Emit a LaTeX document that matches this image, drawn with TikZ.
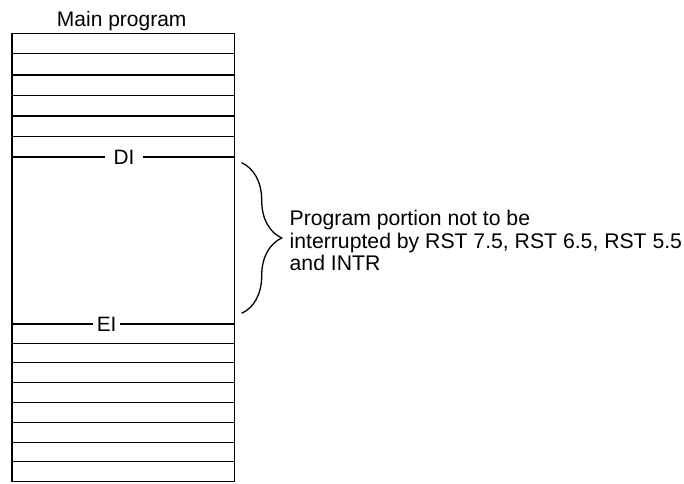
\documentclass[tikz,border=0pt]{standalone}
\usepackage{fontspec}
\setmainfont{Liberation Sans}
\usetikzlibrary{decorations.pathreplacing}
\begin{document}
\begin{tikzpicture}[x=1pt,y=-1pt,
  rowline/.style={line width=1.3pt},
  lbl/.style={fill=white,inner sep=0pt,font=\fontsize{20.8}{22.5}\selectfont},
  txt/.style={inner sep=0pt,align=left,font=\fontsize{21.2}{22.8}\selectfont}]
\useasboundingbox (0,0) rectangle (684,483);
% outer box
\draw[rowline] (12,33.3) rectangle (234.3,481.6);
% upper rows
\foreach \y in {53.3,75,95.7,116,136.7}{
  \draw[rowline] (12,\y) -- (234.3,\y);
}
% lower rows
\foreach \y in {343.3,362.7,382.7,402.7,422.7,442.7,461.7}{
  \draw[rowline] (10.7,\y) -- (234.3,\y);
}
% DI and EI lines
\coordinate (dil) at (12,157);
\coordinate (dir) at (234.3,157);
\coordinate (eil) at (10.7,324);
\coordinate (eir) at (234.3,324);
\draw[rowline] (dil) -- (dir);
\draw[rowline] (eil) -- (eir);
\node[lbl,inner xsep=8.8pt,inner ysep=2pt] (di) at (124,157) {DI};
\node[lbl,inner xsep=3.6pt,inner ysep=2pt] (ei) at (106.7,324) {EI};
% title
\node[inner sep=0pt,anchor=base,font=\fontsize{21}{22.5}\selectfont] (title) at (121.7,26) {Main program};
% brace
\coordinate (bt) at (241.7,162.7);
\coordinate (bb) at (241.7,313.3);
\draw[line width=1.3pt,decorate,decoration={brace,amplitude=40pt}] (bt) -- (bb);
\node[txt,anchor=north west] (note) at (289.5,209.8) {Program portion not to be\\interrupted by RST 7.5, RST 6.5, RST 5.5\\and INTR};
\end{tikzpicture}
\end{document}
